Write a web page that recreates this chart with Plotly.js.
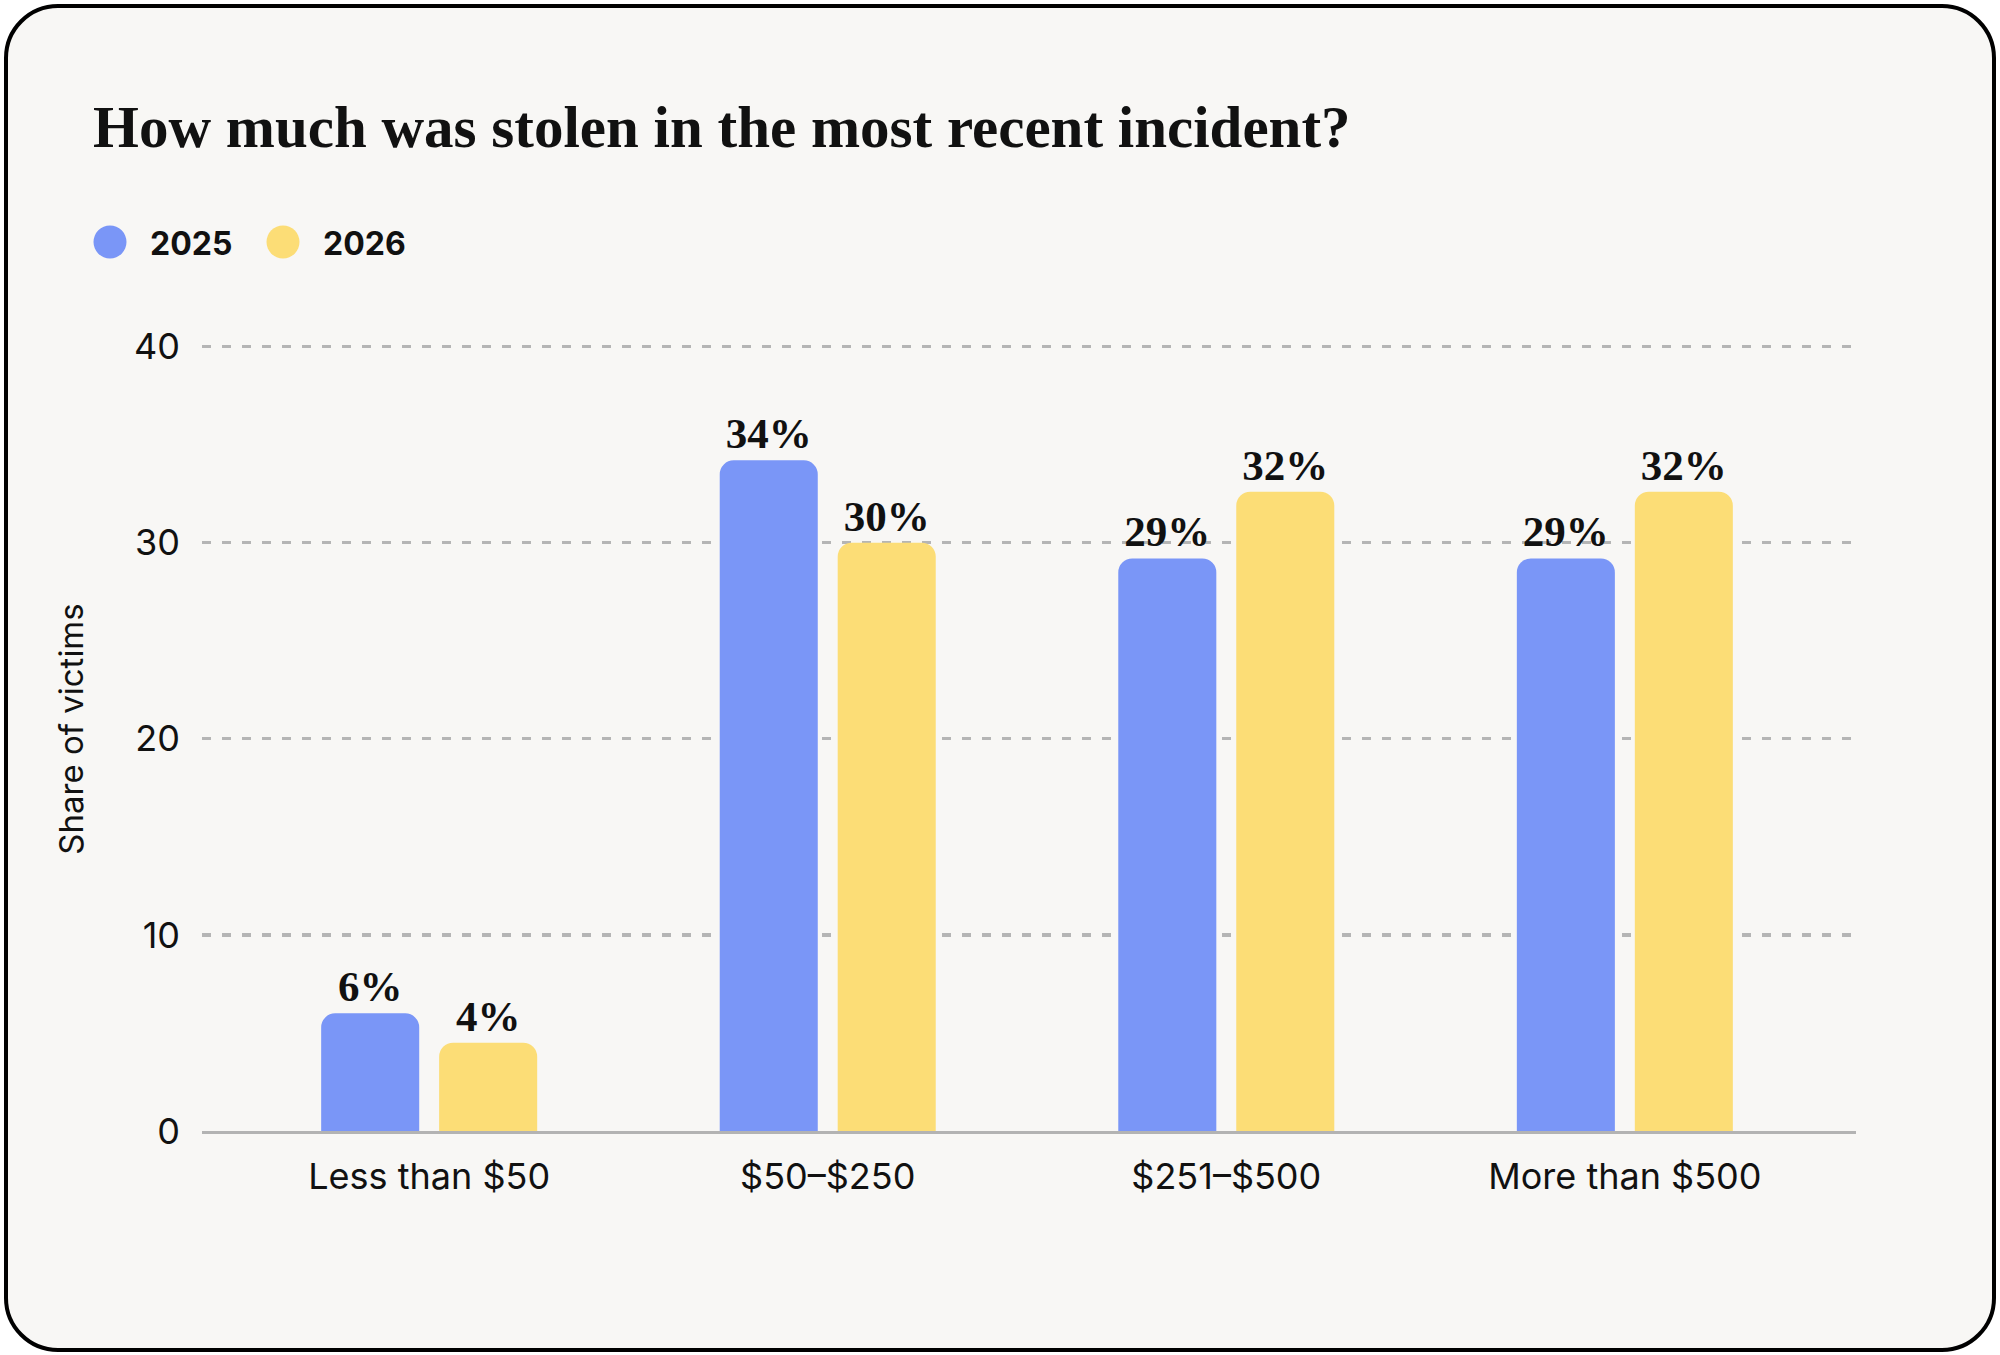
<!DOCTYPE html>
<html><head><meta charset="utf-8">
<script src="https://cdn.plot.ly/plotly-3.0.1.min.js"></script>
<style>
html,body{margin:0;padding:0;background:#fff;}
#card{position:absolute;left:4px;top:4px;width:1992px;height:1348px;box-sizing:border-box;border:4px solid #000;border-radius:54px;background:#F8F7F5;}
#chart{position:absolute;left:0;top:0;width:2000px;height:1355px;}
</style></head><body>
<div id="card"></div><div id="chart"></div>
<script>
const categories = ["Less than $50", "$50–$250", "$251–$500", "More than $500"];
const seriesNames = ["2025", "2026"];
const values2025 = [6.0, 34.2, 29.2, 29.2];
const values2026 = [4.5, 30.0, 32.6, 32.6];
const labels2025 = ["6%", "34%", "29%", "29%"];
const labels2026 = ["4%", "30%", "32%", "32%"];
const yTickVals = [0, 10, 20, 30, 40];
const chartTitle = "How much was stolen in the most recent incident?";
const yTitle = "Share of victims";

const colors = ["#7A96F7", "#FCDD76"];
const W = 2000, H = 1355;
const M = {l: 202, r: 144, t: 327, b: 224};
const pw = W - M.l - M.r, ph = H - M.t - M.b;
const px2x = p => (p - M.l) / pw;
const px2y = p => (H - M.b - p) / ph;

const serif = "Liberation Serif, DejaVu Serif, serif";
const sans = "Inter, Lato, sans-serif";

const seriesVals = [values2025, values2026];
const seriesLabels = [labels2025, labels2026];

const traces = seriesNames.map((name, i) => ({
  type: "bar",
  name: name,
  x: categories,
  y: seriesVals[i],
  text: seriesLabels[i],
  textposition: "outside",
  constraintext: "none",
  cliponaxis: false,
  textfont: {family: serif, size: 43, color: "#111", weight: 700},
  marker: {color: colors[i], line: {width: 0}},
  hoverinfo: "skip",
  showlegend: false
}));

// custom legend (large circles)
const legendX = [110, 283];
const legendY = 242;
const r = 16.5;
const shapes = seriesNames.map((n, i) => ({
  type: "circle", xref: "paper", yref: "paper",
  x0: px2x(legendX[i] - r), x1: px2x(legendX[i] + r),
  y0: px2y(legendY + r), y1: px2y(legendY - r),
  fillcolor: colors[i], line: {width: 0}
}));
const annotations = seriesNames.map((n, i) => ({
  xref: "paper", yref: "paper",
  x: px2x(legendX[i] + 38), y: px2y(legendY + 2),
  xanchor: "left", yanchor: "middle",
  text: n, showarrow: false,
  font: {family: sans, size: 32, color: "#111", weight: 700}
}));

const layout = {
  width: W, height: H,
  margin: M,
  paper_bgcolor: "rgba(0,0,0,0)",
  plot_bgcolor: "rgba(0,0,0,0)",
  title: {
    text: chartTitle,
    xref: "container", yref: "container",
    x: 93 / W, xanchor: "left",
    y: 1 - 126 / H, yanchor: "middle",
    font: {family: serif, size: 59, color: "#111", weight: 700}
  },
  barmode: "group",
  bargap: 0.408,
  bargroupgap: 0.169,
  barcornerradius: 14,
  xaxis: {
    range: [-0.57, 3.58],
    showline: true, linecolor: "#b3b3b3", linewidth: 3,
    showgrid: false, zeroline: false, ticks: "",
    ticklabelstandoff: 12,
    tickfont: {family: sans, size: 36, color: "#111"},
    fixedrange: true
  },
  yaxis: {
    range: [0, 41],
    tickvals: yTickVals,
    showgrid: true, gridcolor: "#b5b5b5", gridwidth: 3.2, griddash: "9px,11px",
    zeroline: false, showline: false, ticks: "",
    ticklabelstandoff: 21,
    tickfont: {family: sans, size: 36, color: "#111"},
    title: {text: yTitle, font: {family: sans, size: 33, color: "#111"}, standoff: 40},
    fixedrange: true
  },
  shapes: shapes,
  annotations: annotations,
  showlegend: false
};

Plotly.newPlot("chart", traces, layout, {displayModeBar: false, staticPlot: true});
</script>
</body></html>
